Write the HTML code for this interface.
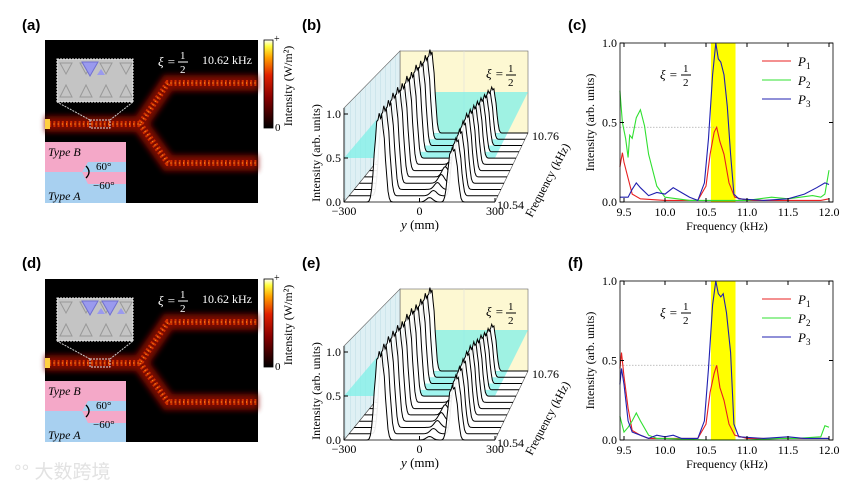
<!DOCTYPE html>
<html><head><meta charset="utf-8">
<style>
html,body{margin:0;padding:0;background:#fff;}
svg{display:block;font-family:"Liberation Serif",serif;}
.lbl{font-family:"Liberation Sans",sans-serif;font-weight:bold;font-size:15px;}
</style></head>
<body>
<svg id="fig" width="864" height="488" viewBox="0 0 864 488" xmlns="http://www.w3.org/2000/svg">
<defs>
<linearGradient id="cbar" x1="0" y1="1" x2="0" y2="0">
<stop offset="0" stop-color="#000"/><stop offset="0.35" stop-color="#8a0000"/><stop offset="0.6" stop-color="#e02000"/><stop offset="0.8" stop-color="#ffa000"/><stop offset="0.93" stop-color="#ffff40"/><stop offset="1" stop-color="#fff"/>
</linearGradient>
<filter id="glow" x="-20%" y="-20%" width="140%" height="140%"><feGaussianBlur stdDeviation="3"/></filter>
<pattern id="hatch" width="5" height="10" patternUnits="userSpaceOnUse"><rect width="5" height="10" fill="#dff0f4"/><line x1="0" y1="0" x2="0" y2="10" stroke="#b6d8e0" stroke-width="0.8"/></pattern>
</defs>
<g id="root"></g>
<text x="14" y="478" font-family="'Liberation Sans','Noto Sans CJK SC',sans-serif" font-size="19" fill="#e2e2e2">°° 大数跨境</text>
</svg>
<script>
// ---------- data ----------
const freqTicks = [9.5, 10.0, 10.5, 11.0, 11.5, 12.0];
const intensTicks = [0.0, 0.5, 1.0];
// panel (c)
const cP1f = [9.45,9.48,9.5,9.55,9.6,9.7,10.0,10.4,10.5,10.55,10.6,10.63,10.67,10.72,10.78,10.85,11.0,11.9,12.0];
const cP1v = [0.22,0.31,0.25,0.15,0.05,0.02,0.01,0.01,0.1,0.3,0.44,0.47,0.38,0.3,0.12,0.03,0.01,0.01,0.02];
const cP2f = [9.45,9.48,9.52,9.55,9.57,9.6,9.65,9.7,9.75,9.8,9.9,10.0,10.3,10.5,11.0,11.3,11.5,11.8,11.9,11.95,12.0];
const cP2v = [0.7,0.5,0.4,0.28,0.42,0.4,0.53,0.58,0.48,0.3,0.1,0.03,0.01,0.01,0.01,0.03,0.02,0.04,0.03,0.05,0.2];
const cP3f = [9.45,9.55,9.6,9.65,9.7,9.8,9.9,10.0,10.1,10.2,10.3,10.4,10.48,10.53,10.58,10.62,10.65,10.68,10.72,10.76,10.8,10.84,10.9,11.2,11.5,11.7,11.85,11.95,12.0];
const cP3v = [0.03,0.03,0.08,0.12,0.09,0.04,0.06,0.05,0.09,0.06,0.03,0.01,0.12,0.4,0.8,1.0,0.9,0.88,0.8,0.6,0.3,0.05,0.02,0.01,0.02,0.05,0.09,0.12,0.11];
// panel (f)
const fP1f = [9.45,9.47,9.5,9.55,9.6,9.7,9.8,10.0,10.4,10.5,10.55,10.6,10.63,10.67,10.72,10.78,10.85,11.0,12.0];
const fP1v = [0.45,0.55,0.4,0.2,0.06,0.03,0.01,0.01,0.01,0.1,0.3,0.42,0.47,0.33,0.25,0.1,0.03,0.01,0.01];
const fP2f = [9.45,9.5,9.55,9.6,9.65,9.7,9.8,9.9,10.0,10.5,11.0,11.4,11.6,11.9,11.95,12.0];
const fP2v = [0.15,0.05,0.08,0.12,0.17,0.12,0.03,0.01,0.01,0.0,0.0,0.01,0.01,0.02,0.09,0.08];
const fP3f = [9.45,9.47,9.5,9.55,9.6,9.7,9.8,9.9,10.0,10.1,10.2,10.4,10.48,10.53,10.58,10.62,10.65,10.68,10.71,10.75,10.8,10.84,10.9,11.2,11.5,11.7,12.0];
const fP3v = [0.35,0.45,0.35,0.12,0.05,0.03,0.01,0.03,0.02,0.03,0.01,0.01,0.12,0.45,0.85,1.0,0.92,0.9,0.92,0.8,0.55,0.1,0.02,0.01,0.02,0.01,0.01];
// waterfall (b)/(e): peak heights per frequency slice (front 10.54 -> back 10.76)
const bLeftPeaks  = [0.98,1.0,1.0,1.02,1.02,1.0,1.02,1.0,1.02,1.0,1.0,1.0];
const bRightPeaks = [0.6,0.64,0.67,0.7,0.72,0.7,0.68,0.66,0.63,0.6,0.58,0.55];
const bMidBumps   = [0.05,0.06,0.08,0.1,0.12,0.1,0.08,0.06,0.05,0.04,0.03,0.03];
const eLeftPeaks  = [0.98,1.0,1.02,1.02,1.02,1.0,1.02,1.02,1.0,1.0,1.0,1.0];
const eRightPeaks = [0.6,0.65,0.68,0.7,0.72,0.72,0.7,0.66,0.64,0.6,0.58,0.56];
const eMidBumps   = [0.04,0.06,0.08,0.1,0.12,0.1,0.08,0.06,0.05,0.04,0.03,0.03];
const wfYTicks = [-300, 0, 300];

const NS = "http://www.w3.org/2000/svg";
const root = document.getElementById('root');
function mk(tag, attrs, parent, text){
  const e = document.createElementNS(NS, tag);
  for (const k in attrs) e.setAttribute(k, attrs[k]);
  if (text !== undefined) e.textContent = text;
  (parent||root).appendChild(e);
  return e;
}

// ---------- panel labels ----------
[['(a)',22,30],['(b)',302,30],['(c)',568,30],['(d)',22,268],['(e)',302,268],['(f)',568,268]].forEach(([t,x,y])=>{
  const e = mk('text',{x:x,y:y,class:'lbl'},root,t);
  
  
});

// ---------- field maps (a)/(d) ----------
function fieldMap(dy, tag, twoBlue){
  const g = mk('g',{});
  
  
  mk('rect',{x:45,y:40+dy,width:213,height:163,fill:'#000'},g);
  const path = `M45,${124+dy} L140,${124+dy} L168,${83+dy} L258,${83+dy} M140,${124+dy} L168,${163+dy} L258,${163+dy}`;
  mk('path',{d:path,stroke:'#8a0800',"stroke-width":16,fill:'none',filter:'url(#glow)',opacity:0.9},g);
  mk('path',{d:path,stroke:'#d03000',"stroke-width":6,fill:'none',"stroke-dasharray":'2 2.2'},g);
  mk('path',{d:path,stroke:'#ffa020',"stroke-width":1.5,fill:'none',"stroke-dasharray":'1 3.2',opacity:0.8},g);
  mk('rect',{x:45,y:119+dy,width:5,height:10,fill:'#ffd040'},g);
  mk('rect',{x:90,y:120+dy,width:20,height:8,fill:'none',stroke:'#ddd',"stroke-dasharray":'2 1'},g);
  mk('line',{x1:90,y1:120+dy,x2:57,y2:102+dy,stroke:'#ccc',"stroke-dasharray":'2 1'},g);
  mk('line',{x1:110,y1:120+dy,x2:133,y2:102+dy,stroke:'#ccc',"stroke-dasharray":'2 1'},g);
  mk('rect',{x:57,y:59+dy,width:76,height:43,fill:'#c4c4c4',stroke:'#eee',"stroke-dasharray":'2 1'},g);
  for(let i=0;i<4;i++){
    const x=60+i*20;
    mk('path',{d:`M${x},${63+dy} l12,0 l-6,11 z`,fill:'none',stroke:'#999'},g);
    mk('path',{d:`M${x},${97+dy} l12,0 l-6,-12 z`,fill:'none',stroke:'#999'},g);
  }
  mk('path',{d:`M82,${62+dy} l16,0 l-8,14 z`,fill:'#9a9aee',stroke:'#7070d0'},g);
  mk('path',{d:`M97,${75+dy} l8,0 l-4,-6 z`,fill:'#9a9aee'},g);
  if(twoBlue){
    mk('path',{d:`M102,${62+dy} l16,0 l-8,14 z`,fill:'#9a9aee',stroke:'#7070d0'},g);
    mk('path',{d:`M117,${75+dy} l8,0 l-4,-6 z`,fill:'#9a9aee'},g);
  }
  mk('rect',{x:45,y:142+dy,width:81,height:61,fill:'#a8d0f0'},g);
  mk('rect',{x:45,y:142+dy,width:81,height:30,fill:'#f4a8c8'},g);
  mk('path',{d:`M126,${162+dy} L88,${162+dy} L82,${172+dy} L126,${172+dy} z`,fill:'#a8d0f0'},g);
  mk('path',{d:`M126,${172+dy} L82,${172+dy} L88,${184+dy} L126,${184+dy} z`,fill:'#f4a8c8'},g);
  mk('path',{d:`M86,${166+dy} q6,6 0,12`,fill:'none',stroke:'#000',"stroke-width":1.3},g);
  mk('text',{x:48,y:156+dy,"font-size":12,"font-style":'italic'},g,'Type B');
  mk('text',{x:48,y:200+dy,"font-size":12,"font-style":'italic'},g,'Type A');
  mk('text',{x:96,y:170+dy,"font-size":11},g,'60°');
  mk('text',{x:93,y:189+dy,"font-size":11},g,'−60°');
  mk('text',{x:158,y:66+dy,fill:'#fff',"font-size":13,"font-style":'italic'},g,'ξ =');
  mk('text',{x:180,y:59+dy,fill:'#fff',"font-size":11},g,'1');
  mk('line',{x1:178,y1:62+dy,x2:188,y2:62+dy,stroke:'#fff'},g);
  mk('text',{x:180,y:73+dy,fill:'#fff',"font-size":11},g,'2');
  mk('text',{x:202,y:64+dy,fill:'#fff',"font-size":12},g,'10.62 kHz');
  const cb = mk('rect',{x:264,y:40+dy,width:9,height:88,fill:'url(#cbar)',stroke:'#000',"stroke-width":0.8},g);
  
  
  mk('text',{x:274,y:42+dy,"font-size":10},g,'+');
  mk('text',{x:275,y:131+dy,"font-size":11},g,'0');
  mk('text',{x:0,y:0,"font-size":12,transform:`translate(292,${86+dy}) rotate(-90)`,"text-anchor":'middle'},g,'Intensity (W/m²)');
}
fieldMap(0,'a',false);
fieldMap(239,'d',true);

// ---------- waterfall (b)/(e) ----------
function waterfall(dy, tag, L, R, M){
  const g = mk('g',{});
  
  
  const n = L.length;
  const slice = i => { const t=i/(n-1); return {x0:344+56*t, w:151-23*t, base:202+dy-69*t, s:88-7*t}; };
  const yToX = (s,yv) => s.x0 + (yv+300)/600*s.w;
  mk('rect',{x:400,y:51+dy,width:128,height:82,fill:'#fdf8d2',stroke:'#666',"stroke-width":0.6},g);
  mk('line',{x1:464,y1:51+dy,x2:464,y2:133+dy,stroke:'#ddd',"stroke-width":0.6},g);
  mk('path',{d:`M344,${108+dy} L400,${51+dy} L400,${133+dy} L344,${202+dy} z`,fill:'url(#hatch)',stroke:'#666',"stroke-width":0.6},g);
  mk('path',{d:`M344,${158+dy} L495,${158+dy} L528,${92+dy} L400,${92+dy} z`,fill:'#7ff0e8',opacity:0.75},g);
  mk('line',{x1:344,y1:202+dy,x2:400,y2:133+dy,stroke:'#555',"stroke-width":0.6},g);
  mk('line',{x1:495,y1:202+dy,x2:528,y2:133+dy,stroke:'#555',"stroke-width":0.6},g);
  for(let i=n-1;i>=0;i--){
    const s = slice(i);
    let pts=[];
    for(let k=0;k<=120;k++){
      const yv = -300 + k*5;
      const lp = L[i]*Math.exp(-Math.pow(Math.abs(yv+158)/26,3));
      const rp = R[i]*Math.exp(-Math.pow(Math.abs(yv-132)/24,3));
      const mp = M[i]*Math.exp(-Math.pow((yv-40)/18,2));
      const jag = (k%2===0 ? 0.03 : -0.03)*(lp+rp);
      const v = lp+rp+mp+jag;
      pts.push([yToX(s,yv), s.base - v*s.s]);
    }
    const d = 'M'+pts.map(p=>p[0].toFixed(1)+','+p[1].toFixed(1)).join(' L');
    const fillD = d + ` L${pts[pts.length-1][0].toFixed(1)},${s.base} L${pts[0][0].toFixed(1)},${s.base} z`;
    mk('path',{d:fillD,fill:'#fff',opacity:0.92},g);
    const c = mk('path',{d:d,fill:'none',stroke:'#000',"stroke-width":1},g);
    
    
  }
  mk('line',{x1:344,y1:202+dy,x2:495,y2:202+dy,stroke:'#000',"stroke-width":0.8},g);
  mk('line',{x1:344,y1:108+dy,x2:344,y2:202+dy,stroke:'#000',"stroke-width":0.8},g);
  intensTicks.forEach(v=>{
    const y=202+dy-v*88;
    mk('line',{x1:344,y1:y,x2:348,y2:y,stroke:'#000'},g);
    mk('text',{x:341,y:y+4,"font-size":12,"text-anchor":'end'},g,v.toFixed(1));
  });
  wfYTicks.forEach(v=>{
    const x = 344+(v+300)/600*151;
    mk('line',{x1:x,y1:202+dy,x2:x,y2:198+dy,stroke:'#000'},g);
    mk('text',{x:x,y:215+dy,"font-size":12,"text-anchor":'middle'},g,v<0?'−'+Math.abs(v):String(v));
  });
  mk('text',{x:420,y:229+dy,"font-size":13,"text-anchor":'middle'},g).innerHTML='<tspan font-style="italic">y</tspan> (mm)';
  mk('text',{x:0,y:0,"font-size":12,transform:`translate(320,${153+dy}) rotate(-90)`,"text-anchor":'middle'},g,'Intensity (arb. units)');
  mk('text',{x:532,y:140+dy,"font-size":12},g,'10.76');
  mk('text',{x:497,y:209+dy,"font-size":12},g,'10.54');
  mk('text',{x:0,y:0,"font-size":12,transform:`translate(551,${182+dy}) rotate(-62)`,"text-anchor":'middle'},g,'Frequency (kHz)');
  mk('text',{x:486,y:78+dy,"font-size":13,"font-style":'italic'},g,'ξ =');
  mk('text',{x:508,y:72+dy,"font-size":11},g,'1');
  mk('line',{x1:506,y1:75+dy,x2:516,y2:75+dy,stroke:'#000'},g);
  mk('text',{x:508,y:86+dy,"font-size":11},g,'2');
}
waterfall(0,'b',bLeftPeaks,bRightPeaks,bMidBumps);
waterfall(238,'e',eLeftPeaks,eRightPeaks,eMidBumps);

// ---------- spectra (c)/(f) ----------
function spectrum(dy, tag, series){
  const g = mk('g',{});
  
  
  const L=620,R=833,T=43+dy,B=202+dy;
  const xs = f => 624 + (f-9.5)*82;
  const ys = v => B - v*(B-T);
  mk('rect',{x:xs(10.56),y:T,width:xs(10.86)-xs(10.56),height:B-T,fill:'#ffff00'},g);
  mk('line',{x1:L,y1:ys(0.47),x2:xs(10.6),y2:ys(0.47),stroke:'#aaa',"stroke-dasharray":'1.5 1.5',"stroke-width":0.8},g);
  const colors = ['#e82020','#30e030','#2020b0'];
  series.forEach((s,idx)=>{
    const d='M'+s[0].map((f,k)=>xs(f).toFixed(1)+','+ys(s[1][k]).toFixed(1)).join(' L');
    const p = mk('path',{d:d,fill:'none',stroke:colors[idx],"stroke-width":1.1},g);
    
    
  });
  mk('rect',{x:L,y:T,width:R-L,height:B-T,fill:'none',stroke:'#000',"stroke-width":0.8},g);
  intensTicks.forEach(v=>{
    mk('line',{x1:L,y1:ys(v),x2:L+4,y2:ys(v),stroke:'#000'},g);
    mk('line',{x1:R,y1:ys(v),x2:R-4,y2:ys(v),stroke:'#000'},g);
    mk('text',{x:L-3,y:ys(v)+4,"font-size":12,"text-anchor":'end'},g,v.toFixed(1));
  });
  freqTicks.forEach(f=>{
    mk('line',{x1:xs(f),y1:B,x2:xs(f),y2:B-4,stroke:'#000'},g);
    mk('line',{x1:xs(f),y1:T,x2:xs(f),y2:T+4,stroke:'#000'},g);
    mk('text',{x:xs(f),y:B+14,"font-size":12,"text-anchor":'middle'},g,f.toFixed(1));
  });
  mk('text',{x:727,y:B+28,"font-size":12,"text-anchor":'middle'},g,'Frequency (kHz)');
  mk('text',{x:0,y:0,"font-size":12,transform:`translate(594,${(T+B)/2}) rotate(-90)`,"text-anchor":'middle'},g,'Intensity (arb. units)');
  mk('text',{x:660,y:79+dy,"font-size":13,"font-style":'italic'},g,'ξ =');
  mk('text',{x:683,y:72+dy,"font-size":11},g,'1');
  mk('line',{x1:681,y1:75+dy,x2:691,y2:75+dy,stroke:'#000'},g);
  mk('text',{x:683,y:86+dy,"font-size":11},g,'2');
  colors.forEach((c,i)=>{
    const y = 61+dy+i*19;
    const le = mk('line',{x1:762,y1:y,x2:791,y2:y,stroke:c,"stroke-width":1.1},g);
    
    
    mk('text',{x:798,y:y+5,"font-size":13},g).innerHTML='<tspan font-style="italic">P</tspan><tspan font-size="9" dy="3">'+(i+1)+'</tspan>';
  });
}
spectrum(0,'c',[[cP1f,cP1v],[cP2f,cP2v],[cP3f,cP3v]]);
spectrum(238,'f',[[fP1f,fP1v],[fP2f,fP2v],[fP3f,fP3v]]);
</script>
</body></html>
